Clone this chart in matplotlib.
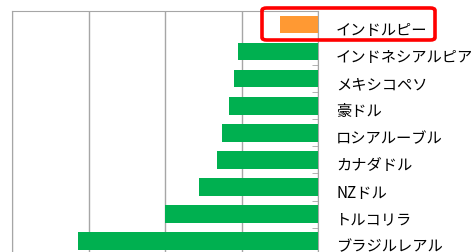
import numpy as np
import matplotlib.pyplot as plt
import matplotlib.transforms as mtransforms
from matplotlib.patches import FancyBboxPatch

plt.rcParams['font.family'] = ['Noto Sans CJK JP', 'DejaVu Sans']

# currencies, top to bottom
labels = ['インドルピー', 'インドネシアルピア', 'メキシコペソ', '豪ドル', 'ロシアルーブル',
          'カナダドル', 'NZドル', 'トルコリラ', 'ブラジルレアル']
values = [-2.5, -5.2, -5.5, -5.8, -6.3, -6.6, -7.8, -10.0, -15.7]
colors = ['#ff9933'] + ['#00b050'] * 8

fig = plt.figure(figsize=(4.71, 2.53), dpi=100)
ax = fig.add_axes([12 / 471, 0, 306 / 471, 1 - 12 / 253])

y = np.arange(len(labels))
ax.barh(y, values, height=0.65, color=colors, zorder=3)

ax.set_xlim(-20, 0)
ax.set_ylim(8.4, -0.5)
ax.set_xticks([-20, -15, -10, -5, 0])
ax.grid(axis='x', color='#a6a6a6', linewidth=1)
ax.tick_params(axis='x', length=0, labelbottom=False)

ax.yaxis.tick_right()
ax.set_yticks(y)
ax.set_yticklabels(labels, fontsize=11)
ax.set_yticks(np.arange(1.5, len(labels) - 1), minor=True)
ax.tick_params(axis='y', which='major', length=0, pad=13)
ax.tick_params(axis='y', which='minor', direction='in', length=4, color='#a6a6a6')

# labels sit a little below the bar centres in the original
for lbl in ax.get_yticklabels():
    lbl.set_transform(lbl.get_transform() +
                      mtransforms.ScaledTranslation(0, -3 / 100, fig.dpi_scale_trans))

for side in ['left', 'top', 'right']:
    ax.spines[side].set_color('#a6a6a6')
ax.spines['bottom'].set_visible(False)

# red highlight box around the first row
box = FancyBboxPatch((262 / 471, 1 - 41 / 253), 173 / 471, 32 / 253,
                     boxstyle='round,pad=0,rounding_size=0.01',
                     transform=fig.transFigure, fill=False,
                     edgecolor='#ff0000', linewidth=2.6, zorder=10)
fig.patches.append(box)

fig.savefig('out.png', dpi=100)
